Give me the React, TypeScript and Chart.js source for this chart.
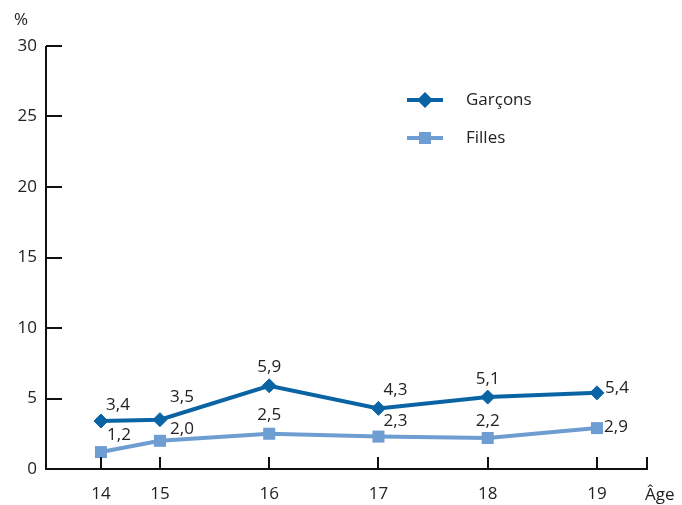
import React, { useEffect, useRef } from 'react';
import { Chart, registerables } from 'chart.js';

Chart.register(...registerables);

const ageLabels = ['14', '15', '16', '17', '18', '19'];
const agePositions = [14.46, 15, 16, 17, 18, 19];
const garcons = [3.4, 3.5, 5.9, 4.3, 5.1, 5.4];
const filles = [1.2, 2.0, 2.5, 2.3, 2.2, 2.9];
const seriesNames = ['Garçons', 'Filles'];
const yTickValues = [0, 5, 10, 15, 20, 25, 30];
const xAxisEnd = 19.458;

const garconsLabelOffsets = [[17, -16], [22, -22], [0, -19], [17, -18], [0, -18], [20, -5]];
const fillesLabelOffsets = [[18, -17], [22, -12], [0, -19], [17, -15], [0, -17], [19, -1]];

const DARK = '#0a64a4';
const LIGHT = '#6e9dd2';
const TEXT = '#222222';
const FONT = '"Open Sans", "Noto Sans", sans-serif';

const fmt = (v: number) => v.toFixed(1).replace('.', ',');

function drawDiamond(ctx: CanvasRenderingContext2D, x: number, y: number, r: number) {
  ctx.beginPath();
  ctx.moveTo(x - r, y);
  ctx.lineTo(x, y - r);
  ctx.lineTo(x + r, y);
  ctx.lineTo(x, y + r);
  ctx.closePath();
  ctx.fill();
}

const decorPlugin = {
  id: 'decor',
  afterDatasetsDraw(chart: any) {
    const ctx: CanvasRenderingContext2D = chart.ctx;
    const xs = chart.scales.x;
    const ys = chart.scales.y;
    const area = chart.chartArea;
    ctx.save();
    // axes
    ctx.strokeStyle = '#111';
    ctx.lineWidth = 2;
    ctx.lineCap = 'butt';
    ctx.beginPath();
    ctx.moveTo(area.left, ys.getPixelForValue(30));
    ctx.lineTo(area.left, ys.getPixelForValue(0));
    ctx.lineTo(xs.getPixelForValue(xAxisEnd) + 1, ys.getPixelForValue(0));
    ctx.stroke();
    // y ticks (inside)
    ctx.beginPath();
    yTickValues.forEach((v) => {
      const y = Math.round(ys.getPixelForValue(v));
      if (v === 0) return;
      ctx.moveTo(area.left, y);
      ctx.lineTo(area.left + 16, y);
    });
    // x ticks (upward)
    const y0 = ys.getPixelForValue(0);
    [...agePositions, xAxisEnd].forEach((v) => {
      const x = Math.round(xs.getPixelForValue(v));
      ctx.moveTo(x, y0);
      ctx.lineTo(x, y0 - 12);
    });
    ctx.stroke();

    // data labels
    ctx.fillStyle = TEXT;
    ctx.font = `17px ${FONT}`;
    ctx.textAlign = 'center';
    ctx.textBaseline = 'middle';
    const sets: [number[], number[][]][] = [
      [garcons, garconsLabelOffsets],
      [filles, fillesLabelOffsets],
    ];
    sets.forEach(([vals, offs], di) => {
      const meta = chart.getDatasetMeta(di);
      meta.data.forEach((pt: any, i: number) => {
        ctx.fillText(fmt(vals[i]), pt.x + offs[i][0], pt.y + offs[i][1]);
      });
    });

    // axis titles
    ctx.textAlign = 'left';
    ctx.fillText('%', 14, 20);
    ctx.fillText('Âge', 645, 495);

    // legend
    const legend = [
      { name: seriesNames[0], color: DARK, y: 100, shape: 'diamond' },
      { name: seriesNames[1], color: LIGHT, y: 138, shape: 'square' },
    ];
    legend.forEach((l) => {
      ctx.strokeStyle = l.color;
      ctx.fillStyle = l.color;
      ctx.lineWidth = 4;
      ctx.beginPath();
      ctx.moveTo(407, l.y);
      ctx.lineTo(443, l.y);
      ctx.stroke();
      if (l.shape === 'diamond') drawDiamond(ctx, 425, l.y, 8);
      else ctx.fillRect(419, l.y - 6, 12, 12);
      ctx.fillStyle = TEXT;
      ctx.fillText(l.name, 466, l.y);
    });
    ctx.restore();
  },
};

export default function App() {
  const ref = useRef<HTMLCanvasElement>(null);
  useEffect(() => {
    if (!ref.current) return;
    const chart = new Chart(ref.current, {
      type: 'line',
      data: {
        datasets: [
          {
            label: seriesNames[0],
            data: garcons.map((v, i) => ({ x: agePositions[i], y: v })),
            borderColor: DARK,
            backgroundColor: DARK,
            borderWidth: 4,
            pointStyle: 'rectRot',
            pointRadius: 7,
            pointBorderWidth: 1,
            tension: 0,
          },
          {
            label: seriesNames[1],
            data: filles.map((v, i) => ({ x: agePositions[i], y: v })),
            borderColor: LIGHT,
            backgroundColor: LIGHT,
            borderWidth: 4,
            pointStyle: 'rect',
            pointRadius: 8.5,
            pointBorderWidth: 0,
            tension: 0,
          },
        ],
      },
      options: {
        animation: false,
        responsive: true,
        maintainAspectRatio: false,
        layout: { padding: { top: 46, right: 35, left: 0, bottom: 0 } },
        plugins: { legend: { display: false }, tooltip: { enabled: false } },
        scales: {
          x: {
            type: 'linear',
            min: 13.957,
            max: xAxisEnd,
            grid: { display: false, drawTicks: false },
            border: { display: false },
            afterBuildTicks: (s: any) => {
              s.ticks = agePositions.map((v) => ({ value: v }));
            },
            afterFit: (s: any) => {
              s.height = 36;
            },
            ticks: {
              autoSkip: false,
              maxRotation: 0,
              padding: 15,
              color: TEXT,
              font: { family: FONT, size: 17 },
              callback: (v: any) => {
                const i = agePositions.indexOf(Number(v));
                return i >= 0 ? ageLabels[i] : '';
              },
            },
          },
          y: {
            min: 0,
            max: 30,
            grid: { display: false, drawTicks: false },
            border: { display: false },
            afterBuildTicks: (s: any) => {
              s.ticks = yTickValues.map((v) => ({ value: v }));
            },
            afterFit: (s: any) => {
              s.width = 46;
            },
            ticks: {
              padding: 9,
              color: TEXT,
              font: { family: FONT, size: 17 },
            },
          },
        },
      },
      plugins: [decorPlugin],
    });
    return () => chart.destroy();
  }, []);
  return (
    <div style={{ position: 'absolute', left: 0, top: 0, width: 682, height: 505 }}>
      <canvas ref={ref} />
    </div>
  );
}
